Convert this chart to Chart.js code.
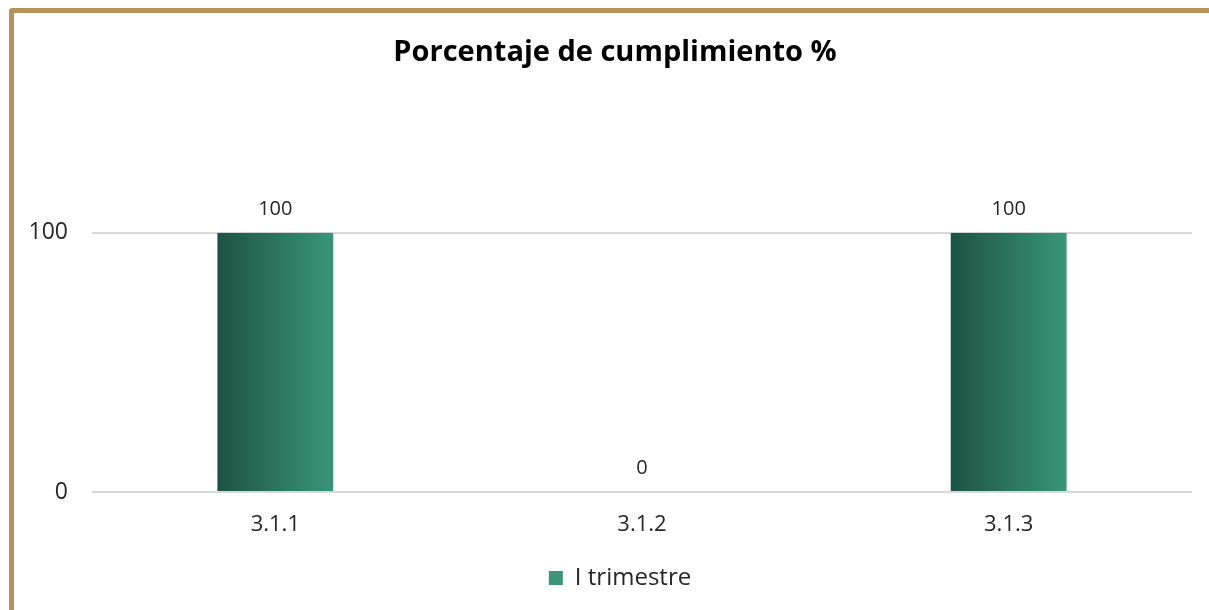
<!DOCTYPE html>
<html>
<head>
<meta charset="utf-8">
<script src="https://cdn.jsdelivr.net/npm/chart.js@4/dist/chart.umd.min.js"></script>
<style>
  html, body { margin: 0; padding: 0; background: #fff; }
  #wrap { position: relative; width: 1209px; height: 610px; overflow: hidden; }
  #frame { position: absolute; left: 9px; top: 8px; width: 1300px; height: 700px;
           border-top: 5px solid #B5915E; border-left: 5px solid #B5915E; border-top-left-radius: 4px; }
  canvas { position: absolute; left: 0; top: 0; }
</style>
</head>
<body>
<div id="wrap">
  <div id="frame"></div>
  <canvas id="c" width="1209" height="610"></canvas>
</div>
<script>
const categories = ["3.1.1", "3.1.2", "3.1.3"];
const seriesName = "I trimestre";
const values = [100, 0, 100];
const yTicks = [0, 100];
const titleText = "Porcentaje de cumplimiento %";

const FONT = "'Open Sans', 'Liberation Sans', sans-serif";
const DARK = "#1D5244";
const LIGHT = "#3A957A";
const CAT_PCT = 0.8;
const BAR_PCT = 0.395;

function barGradient(ctx) {
  const chart = ctx.chart;
  const xs = chart.scales && chart.scales.x;
  if (ctx.type !== 'data' || !xs || !chart.chartArea) return "#2A7460";
  const center = xs.getPixelForValue(ctx.dataIndex);
  const w = (xs.width / categories.length) * CAT_PCT * BAR_PCT;
  const g = chart.ctx.createLinearGradient(center - w / 2, 0, center + w / 2, 0);
  g.addColorStop(0, DARK);
  g.addColorStop(1, LIGHT);
  return g;
}

const dataLabels = {
  id: 'dataLabels',
  afterDatasetsDraw(chart) {
    const c = chart.ctx;
    const meta = chart.getDatasetMeta(0);
    c.save();
    c.font = "20px " + FONT;
    c.fillStyle = "#262626";
    c.textAlign = "center";
    c.textBaseline = "middle";
    meta.data.forEach((el, i) => {
      c.fillText(String(values[i]), el.x, el.y - 24);
    });
    c.restore();
  }
};

const blockShift = {
  id: 'blockShift',
  afterLayout(chart) {
    if (chart.titleBlock) {
      chart.titleBlock.left += 9;
      chart.titleBlock.right += 9;
    }
    if (chart.legend) {
      chart.legend.left += 14;
      chart.legend.right += 14;
    }
  }
};

new Chart(document.getElementById('c'), {
  type: 'bar',
  data: {
    labels: categories,
    datasets: [{
      label: seriesName,
      data: values,
      backgroundColor: barGradient,
      borderWidth: 0,
      categoryPercentage: CAT_PCT,
      barPercentage: BAR_PCT
    }]
  },
  options: {
    responsive: false,
    animation: false,
    events: [],
    layout: { padding: { left: 20, right: 17, top: 35, bottom: 10 } },
    scales: {
      x: {
        afterFit(scale) { scale.height = 64; },
        grid: { display: false },
        border: { display: false },
        ticks: { color: "#262626", font: { family: FONT, size: 22 }, padding: 12 }
      },
      y: {
        min: 0, max: 100,
        afterBuildTicks(scale) { scale.ticks = yTicks.map(v => ({ value: v })); },
        afterFit(scale) { scale.width = 72; },
        grid: { color: "#D9D9D9", lineWidth: 2, drawTicks: false },
        border: { display: false },
        ticks: { color: "#262626", font: { family: FONT, size: 23 }, padding: 24 }
      }
    },
    plugins: {
      title: {
        display: true,
        text: titleText,
        color: "#000",
        font: { family: FONT, size: 29, weight: 'bold' },
        padding: { top: 0, bottom: 163 }
      },
      legend: {
        position: 'bottom',
        labels: {
          color: "#262626",
          font: { family: FONT, size: 24 },
          boxWidth: 14, boxHeight: 14, padding: 10
        }
      },
      tooltip: { enabled: false }
    }
  },
  plugins: [dataLabels, blockShift]
});
</script>
</body>
</html>
